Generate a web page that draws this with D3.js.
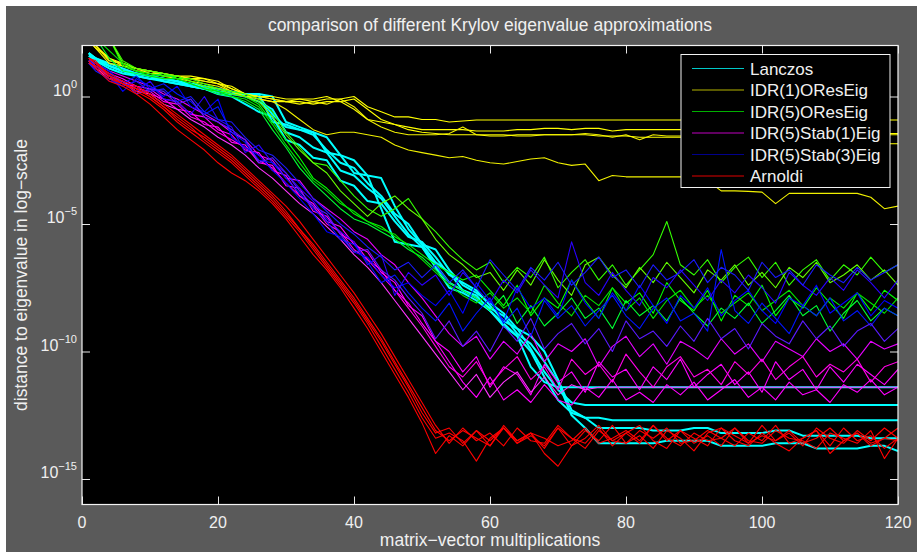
<!DOCTYPE html>
<html>
<head>
<meta charset="utf-8">
<script src="https://cdn.jsdelivr.net/npm/d3@7"></script>
<style>
  html, body { margin: 0; padding: 0; background: #fff; }
  svg { display: block; font-family: "Liberation Sans", Arial, Helvetica, sans-serif; }
</style>
</head>
<body>
<svg id="chart" width="917" height="552"></svg>
<script>
// distances are stored as log10 exponents, sampled at steps 1,2,4,...,120
var steps = [1].concat(d3.range(2, 121, 2));

var lanczosRuns = [
  [1.7,1.5,1.2,1.0,0.9,0.8,0.7,0.6,0.5,0.4,0.2,0.1,0.1,0.1,-1.0,-1.1,-1.3,-1.4,-2.2,-2.3,-3.0,-3.1,-4.4,-5.7,-5.8,-5.9,-6.7,-7.5,-7.7,-8.0,-8.4,-9.0,-9.4,-10.6,-11.2,-11.4,
   -11.4,-11.4,-11.4,-11.4,-11.4,-11.4,-11.4,-11.4,-11.4,-11.4,-11.4,-11.4,-11.4,-11.4,-11.4,-11.4,-11.4,-11.4,-11.4,-11.4,-11.4,-11.4,-11.4,-11.4,-11.4],
  [1.6,1.4,1.1,0.9,0.8,0.7,0.6,0.5,0.4,0.3,0.1,0.0,-0.3,-0.6,-0.8,-1.7,-1.9,-2.4,-2.5,-3.3,-3.5,-4.1,-4.2,-4.9,-5.5,-5.7,-6.3,-7.0,-7.3,-7.6,-8.2,-8.8,-9.1,-9.9,-10.8,-11.5,-12.0,-12.1,
   -12.1,-12.1,-12.1,-12.1,-12.1,-12.1,-12.1,-12.1,-12.1,-12.1,-12.1,-12.1,-12.1,-12.1,-12.1,-12.1,-12.1,-12.1,-12.1,-12.1,-12.1,-12.1,-12.1],
  [1.7,1.5,1.2,1.0,0.8,0.7,0.7,0.6,0.4,0.3,0.2,0.1,0.1,0.0,-0.7,-1.2,-1.3,-1.5,-2.1,-2.6,-2.8,-3.4,-3.9,-4.6,-5.0,-5.8,-6.5,-6.9,-7.6,-7.8,-8.4,-8.9,-9.4,-10.0,-11.0,-11.9,-12.4,-12.6,-12.6,-12.7,
   -12.7,-12.7,-12.7,-12.7,-12.7,-12.7,-12.7,-12.7,-12.7,-12.7,-12.7,-12.7,-12.7,-12.7,-12.7,-12.7,-12.7,-12.7,-12.7,-12.7,-12.7],
  [1.6,1.5,1.3,1.1,0.9,0.8,0.7,0.6,0.5,0.4,0.3,0.2,0.1,0.1,0.0,-1.0,-1.2,-1.4,-1.6,-2.3,-2.5,-3.1,-3.2,-4.3,-5.2,-5.8,-6.0,-6.8,-7.4,-7.7,-8.1,-8.5,-9.1,-9.4,-10.0,-11.1,-12.3,-12.6,-13.0,
   -13.0,-13.0,-13.0,-13.1,-13.1,-13.1,-13.0,-13.0,-13.2,-13.2,-13.2,-13.2,-13.1,-13.1,-13.3,-13.3,-13.3,-13.3,-13.3,-13.4,-13.4,-13.4],
  [1.7,1.4,1.2,1.0,0.9,0.8,0.6,0.5,0.4,0.3,0.2,0.1,0.0,-0.2,-0.5,-1.4,-1.6,-2.0,-2.2,-2.9,-3.1,-3.6,-4.0,-4.7,-5.4,-5.9,-6.6,-7.3,-7.6,-7.9,-8.3,-8.6,-9.3,-9.7,-10.4,-11.2,-12.5,-13.0,-13.6,
   -13.6,-13.6,-13.6,-13.6,-13.5,-13.5,-13.5,-13.5,-13.7,-13.7,-13.7,-13.7,-13.6,-13.6,-13.6,-13.8,-13.8,-13.8,-13.8,-13.7,-13.7,-13.9]
];

var idr1OResRuns = [
  [2.2,2.0,1.4,1.3,1.1,1.0,0.9,0.8,0.7,0.7,0.6,0.3,0.1,0.0,0.0,-0.1,-0.1,-0.2,-0.1,-0.1,0.0,-0.4,-0.6,-0.8,-0.8,-0.9,
   -0.9,-1.0,-0.96,-0.92,-0.92,-0.92,-0.92,-0.92,-0.92,-0.92,-0.92,-0.92,-0.92,-0.92,-0.92,-0.92,-0.92,-0.92,-0.92,-0.92,-0.92,-0.92,-0.92,-0.92,-0.92,-0.92,-0.92,-0.92,-0.92,-0.92,-0.92,-0.92,-0.92,-0.92,-0.92],
  [2.2,1.9,1.5,1.2,1.1,0.9,0.9,0.7,0.7,0.6,0.5,0.4,0.1,0.0,-0.1,-0.2,-0.2,-0.3,-0.2,-0.2,-0.1,-0.5,-0.9,-1.1,-1.2,-1.3,
   -1.3,-1.3,-1.3,-1.35,-1.35,-1.35,-1.3,-1.3,-1.25,-1.25,-1.3,-1.25,-1.25,-1.35,-1.3,-1.3,-1.3,-1.3,-1.3,-1.3,-1.35,-1.35,-1.35,-1.3,-1.3,-1.3,-1.3,-1.3,-0.8,-1.3,-1.3,-1.3,-1.4,-1.45,-1.45],
  [2.2,2.0,1.4,1.3,1.0,1.0,0.8,0.8,0.7,0.6,0.5,0.2,0.0,0.0,-0.1,-0.2,-0.3,-0.2,-0.3,-0.1,-0.4,-0.9,-1.2,-1.4,-1.5,-1.5,
   -1.5,-1.45,-1.2,-1.5,-1.5,-1.5,-1.55,-1.55,-1.5,-1.5,-1.5,-1.45,-1.5,-1.6,-1.5,-1.7,-1.5,-1.55,-1.55,-1.5,-1.5,-1.5,-1.5,-1.5,-1.5,-1.5,-1.5,-1.5,-1.5,-1.5,-1.45,-1.45,-1.5,-1.5,-1.5],
  [2.2,2.0,1.5,1.3,1.1,1.0,0.9,0.8,0.8,0.7,0.5,0.3,0.1,-0.1,-0.2,-0.2,-0.1,-0.1,0.0,-0.2,-0.5,-0.9,-1.0,-1.1,-1.3,-1.4,
   -1.45,-1.5,-1.5,-1.5,-1.55,-1.55,-1.5,-1.5,-1.5,-1.5,-1.5,-1.5,-1.55,-1.55,-1.55,-1.6,-1.6,-1.6,-1.6,-1.6,-1.6,-1.6,-1.6,-1.6,-1.6,-1.6,-1.6,-1.6,-1.6,-1.6,-1.65,-1.8,-1.85,-1.85,-1.85],
  [2.2,1.9,1.3,1.2,1.0,0.9,0.8,0.7,0.6,0.5,0.4,0.2,0.0,-0.1,-0.2,-0.5,-0.9,-1.3,-1.5,-1.4,-1.4,-1.5,-1.6,-1.9,-2.1,-2.2,
   -2.3,-2.4,-2.35,-2.5,-2.6,-2.65,-2.55,-2.45,-2.4,-2.6,-2.7,-2.65,-3.3,-3.1,-3.15,-3.15,-3.15,-3.15,-3.15,-3.2,-3.3,-3.7,-3.7,-3.72,-3.75,-4.2,-3.8,-3.8,-3.8,-3.8,-3.8,-3.8,-3.95,-4.4,-4.3]
];

var idr5OResRuns = [
  [2.3,2.3,2.3,1.2,1.0,0.9,0.8,0.8,0.6,0.4,0.2,0.1,0.0,-0.3,-1.0,-1.7,-2.4,-3.2,-3.6,-4.1,-4.6,-4.9,-5.1,-5.5,-5.8,-6.2,-6.6,-6.9,-7.2,-7.0,
   -7.6,-8.2,-7.4,-8.6,-7.9,-8.3,-7.2,-8.0,-8.7,-7.5,-8.1,-7.7,-8.5,-7.3,-8.0,-8.4,-7.6,-8.8,-7.8,-8.2,-7.4,-8.6,-7.9,-8.3,-7.5,-8.1,-8.7,-7.7,-8.4,-7.6,-8.0],
  [2.3,2.3,2.3,1.4,1.1,1.0,0.9,0.7,0.7,0.5,0.3,0.2,0.1,-0.1,-0.6,-1.4,-2.0,-2.6,-2.7,-3.3,-3.9,-4.4,-4.7,-4.4,-4.0,-4.8,-5.3,-5.9,-6.4,-6.8,
   -6.5,-7.3,-6.7,-7.1,-6.3,-7.5,-6.9,-6.4,-7.2,-6.6,-7.4,-6.8,-6.2,-4.9,-6.6,-7.0,-6.4,-7.3,-6.7,-6.3,-7.1,-6.5,-7.4,-6.8,-6.4,-7.2,-6.6,-7.0,-6.3,-6.9,-6.6],
  [2.3,2.3,1.5,1.0,0.9,0.8,0.9,0.7,0.5,0.3,0.1,0.0,-0.2,-0.5,-1.3,-2.0,-2.8,-3.4,-3.9,-4.4,-4.8,-5.0,-5.3,-5.6,-6.0,-6.3,-6.8,-7.3,-7.6,-7.9,
   -8.4,-7.8,-8.9,-8.2,-9.0,-8.5,-7.9,-8.7,-8.3,-9.1,-8.0,-8.6,-8.2,-8.8,-7.9,-8.5,-9.0,-8.3,-8.7,-8.1,-8.9,-8.4,-7.8,-8.6,-8.2,-9.2,-8.5,-8.0,-8.8,-8.3,-8.6],
  [2.3,2.3,2.3,1.3,1.1,1.0,0.9,0.8,0.6,0.4,0.3,0.1,0.0,-0.2,-0.8,-1.5,-2.1,-2.6,-3.0,-3.7,-4.2,-4.7,-4.2,-3.9,-4.4,-4.8,-5.6,-6.2,-6.6,-7.1,
   -6.9,-7.6,-6.8,-7.4,-6.4,-7.2,-7.8,-6.6,-6.3,-7.0,-7.5,-6.7,-7.3,-6.5,-7.1,-7.7,-6.8,-7.2,-6.6,-7.4,-6.9,-7.5,-6.7,-7.1,-6.5,-7.3,-7.0,-6.6,-7.2,-6.8,-7.4],
  [2.3,2.3,1.8,1.3,1.0,0.8,0.7,0.7,0.5,0.3,0.2,0.0,-0.1,-0.4,-1.1,-1.9,-2.6,-3.3,-3.7,-4.2,-4.5,-4.9,-5.2,-5.4,-5.9,-6.4,-6.9,-7.4,-7.8,-8.1,
   -7.7,-8.3,-7.9,-8.5,-7.4,-8.1,-8.6,-7.8,-8.2,-7.5,-8.4,-7.9,-8.7,-8.0,-7.6,-8.3,-7.8,-8.5,-8.1,-7.7,-8.4,-8.0,-7.6,-8.2,-8.6,-7.9,-8.3,-7.7,-8.1,-8.5,-7.9]
];

var idr5Stab1Runs = [
  [1.4,1.2,0.9,0.7,0.4,0.3,-0.1,-0.2,-0.7,-0.8,-1.3,-1.5,-2.1,-2.2,-2.9,-3.1,-3.9,-4.2,-4.9,-5.1,-5.8,-6.1,-6.9,-7.3,-8.2,-8.6,-9.6,-10.0,
   -10.8,-10.2,-11.4,-10.6,-10.9,-11.7,-10.5,-11.2,-10.8,-11.6,-10.4,-11.0,-10.7,-11.5,-10.6,-11.1,-10.3,-11.4,-10.9,-10.5,-11.3,-10.8,-11.6,-10.4,-11.1,-10.7,-11.5,-10.6,-11.2,-10.5,-10.9,-11.3,-10.7],
  [1.3,1.1,0.8,0.5,0.4,0.1,-0.1,-0.5,-0.6,-1.1,-1.2,-1.8,-1.9,-2.6,-2.7,-3.5,-3.6,-4.5,-4.7,-5.4,-5.7,-6.4,-6.8,-7.6,-8.1,-8.9,-9.6,-10.4,
   -11.2,-11.8,-11.0,-11.9,-11.5,-12.0,-11.3,-11.9,-12.1,-11.4,-11.8,-11.1,-11.9,-11.6,-12.0,-11.3,-11.7,-11.2,-11.9,-11.5,-11.1,-11.8,-11.4,-11.9,-11.2,-11.7,-11.5,-12.0,-11.3,-11.6,-11.1,-11.7,-11.4],
  [1.4,1.3,1.0,0.8,0.6,0.4,0.1,-0.1,-0.4,-0.7,-1.0,-1.4,-1.7,-2.3,-2.5,-3.2,-3.3,-4.0,-4.4,-4.8,-5.3,-5.6,-6.2,-6.6,-7.3,-7.9,-8.6,-9.3,
   -9.8,-9.4,-10.3,-9.6,-10.1,-9.3,-10.4,-9.7,-10.0,-9.5,-10.6,-9.8,-9.4,-10.2,-9.7,-10.5,-9.6,-9.9,-10.3,-9.5,-10.1,-9.7,-10.4,-9.6,-9.9,-10.2,-9.5,-10.0,-9.7,-10.3,-9.6,-9.9,-9.7],
  [1.3,1.2,0.8,0.6,0.3,0.2,-0.2,-0.3,-0.8,-1.0,-1.4,-1.7,-2.0,-2.5,-2.8,-3.4,-3.9,-4.3,-5.0,-5.3,-6.0,-6.4,-7.0,-7.6,-8.3,-9.0,-9.8,-10.6,
   -11.0,-10.4,-11.3,-10.7,-10.2,-11.1,-10.6,-11.5,-10.3,-10.9,-10.5,-11.2,-10.1,-10.8,-11.4,-10.6,-10.2,-11.0,-10.7,-11.3,-10.4,-10.9,-10.3,-11.1,-10.6,-10.2,-11.0,-10.5,-10.8,-10.3,-11.2,-10.6,-10.4],
  [1.4,1.1,0.7,0.6,0.2,0.1,-0.3,-0.5,-0.9,-1.2,-1.6,-1.9,-2.3,-2.8,-3.2,-3.7,-4.2,-4.6,-5.1,-5.6,-6.2,-6.7,-7.3,-8.0,-8.7,-9.4,-10.1,-10.8,
   -11.5,-10.9,-11.8,-11.2,-10.8,-11.6,-11.0,-11.7,-11.3,-11.5,-11.4,-11.4,-11.4,-11.4,-11.4,-11.4,-11.4,-11.4,-11.4,-11.4,-11.4,-11.4,-11.4,-11.4,-11.4,-11.4,-11.4,-11.4,-11.4,-11.4,-11.4,-11.4,-11.4]
];

var idr5Stab3Runs = [
  [1.4,1.2,0.9,0.2,0.7,0.4,0.0,0.4,-0.4,-0.6,-0.1,-1.6,-2.0,-2.3,-2.9,-3.4,-4.0,-4.6,-5.3,-5.5,-6.1,-6.3,-7.0,-7.5,-7.3,-7.8,
   -8.2,-7.6,-8.5,-7.3,-8.0,-8.8,-7.5,-8.3,-7.9,-8.6,-7.2,-8.1,-8.7,-7.7,-8.4,-7.4,-8.2,-8.9,-7.8,-8.3,-7.5,-8.6,-8.0,-7.6,-8.4,-8.9,-7.9,-8.2,-7.4,-8.5,-8.1,-7.7,-8.6,-8.0,-8.3],
  [1.3,1.1,0.6,0.5,0.2,0.6,-0.1,-0.2,-0.7,0.0,-0.9,-1.2,-2.2,-1.9,-2.6,-3.0,-3.6,-4.1,-4.8,-5.3,-5.7,-6.6,-6.2,-7.8,-6.9,-7.4,
   -7.0,-7.8,-6.9,-7.5,-8.1,-7.2,-7.7,-6.8,-7.4,-7.9,-5.7,-7.3,-7.8,-6.9,-7.6,-8.2,-7.1,-7.5,-6.8,-7.4,-8.0,-7.2,-7.7,-7.0,-7.5,-8.1,-6.9,-7.4,-7.8,-7.1,-7.6,-6.8,-7.3,-7.9,-7.2],
  [1.4,1.3,1.0,0.5,0.8,0.3,0.5,0.1,-0.2,-0.7,-0.4,-1.4,-1.8,-2.5,-2.6,-3.2,-3.8,-4.4,-4.9,-5.6,-5.8,-6.5,-7.3,-7.0,-7.7,-8.3,
   -8.8,-8.1,-9.2,-8.5,-7.9,-8.9,-8.3,-9.4,-8.0,-8.7,-8.2,-9.0,-8.4,-7.8,-8.6,-9.1,-8.3,-7.9,-8.8,-8.5,-9.2,-6.0,-8.4,-8.9,-8.1,-8.7,-9.3,-8.2,-8.6,-7.9,-8.8,-8.4,-9.0,-8.3,-8.6],
  [1.5,1.2,0.8,0.6,0.1,0.3,0.2,-0.3,-0.1,-0.8,-1.0,-1.3,-1.7,-2.6,-2.4,-3.0,-3.7,-4.3,-4.6,-5.4,-6.1,-6.0,-6.8,-7.2,-7.9,-8.5,
   -9.5,-8.8,-9.8,-9.2,-10.0,-9.0,-9.6,-8.7,-9.9,-9.3,-8.9,-9.7,-9.1,-10.0,-8.8,-9.5,-9.2,-9.8,-9.0,-9.6,-8.7,-9.5,-9.1,-9.9,-8.9,-9.4,-9.7,-8.8,-9.5,-9.0,-9.8,-9.2,-8.9,-9.6,-9.1],
  [1.3,1.0,0.7,0.4,0.6,0.2,0.3,-0.2,0.0,-0.6,-0.9,-1.0,-1.6,-2.1,-2.3,-2.8,-3.4,-4.0,-4.5,-5.0,-5.4,-5.9,-6.3,-6.8,-6.5,-7.1,
   -6.6,-7.3,-6.8,-7.5,-6.4,-7.0,-7.6,-6.7,-7.2,-6.5,-7.4,-6.9,-6.3,-7.1,-6.8,-7.5,-6.6,-7.2,-6.9,-6.4,-7.3,-6.7,-7.0,-7.6,-6.5,-7.1,-6.8,-7.4,-6.6,-7.0,-7.3,-6.7,-7.2,-6.9,-6.6]
];

var arnoldiRuns = [
  [1.5,1.3,0.8,0.5,0.3,0.0,-0.4,-0.9,-1.3,-1.6,-2.0,-2.4,-2.9,-3.4,-3.9,-4.5,-5.2,-5.9,-6.6,-7.3,-8.0,-8.8,-9.6,-10.5,-11.4,-12.4,-13.2,
   -13.0,-13.6,-13.1,-13.7,-12.9,-13.5,-13.2,-13.8,-13.0,-13.4,-13.6,-13.0,-13.7,-13.2,-12.9,-13.5,-13.8,-13.1,-13.4,-13.7,-13.0,-13.3,-13.6,-12.9,-13.5,-13.2,-13.7,-13.0,-13.4,-13.6,-13.1,-13.5,-13.0,-13.4],
  [1.4,1.1,0.6,0.4,0.1,-0.3,-0.8,-1.3,-1.7,-2.1,-2.6,-3.0,-3.3,-3.7,-4.2,-4.8,-5.5,-6.2,-6.8,-7.5,-8.3,-9.1,-10.0,-10.9,-11.8,-12.8,-14.0,
   -13.3,-13.7,-13.1,-13.5,-13.0,-13.6,-13.2,-14.0,-14.5,-13.7,-13.1,-13.5,-12.9,-13.6,-13.3,-13.8,-13.1,-13.4,-13.9,-13.2,-13.0,-13.5,-13.7,-13.2,-13.6,-13.9,-13.4,-13.1,-13.7,-13.0,-13.5,-13.3,-13.8,-13.4],
  [1.5,1.3,0.9,0.6,0.4,0.1,-0.3,-0.7,-1.1,-1.5,-1.9,-2.3,-2.8,-3.3,-3.8,-4.3,-4.9,-5.6,-6.3,-7.0,-7.7,-8.5,-9.3,-10.2,-11.1,-12.0,-12.9,
   -13.6,-13.0,-13.5,-13.2,-13.7,-13.0,-13.5,-13.6,-12.9,-13.4,-13.8,-13.1,-13.5,-13.2,-13.6,-12.9,-13.5,-13.1,-13.6,-13.3,-13.7,-13.0,-13.5,-13.6,-13.1,-13.4,-13.5,-13.8,-13.2,-13.4,-13.6,-13.1,-14.2,-13.4],
  [1.3,1.2,0.7,0.5,0.2,-0.1,-0.5,-1.0,-1.4,-1.8,-2.2,-2.6,-3.1,-3.6,-4.1,-4.7,-5.3,-6.0,-6.7,-7.4,-8.1,-8.9,-9.8,-10.7,-11.6,-12.6,-13.4,
   -13.2,-13.5,-14.3,-13.4,-13.0,-13.6,-13.3,-13.7,-13.0,-13.7,-13.4,-12.9,-13.5,-13.6,-13.1,-13.4,-13.0,-13.6,-13.5,-13.1,-13.4,-13.7,-13.2,-13.5,-12.9,-13.6,-13.4,-13.1,-14.0,-13.5,-13.2,-13.6,-13.4,-13.0],
  [1.5,1.4,0.8,0.5,0.3,0.0,-0.4,-0.8,-1.2,-1.7,-2.1,-2.5,-3.0,-3.5,-4.0,-4.6,-5.2,-5.8,-6.5,-7.2,-7.9,-8.7,-9.5,-10.4,-11.3,-12.2,-13.1,
   -13.5,-13.1,-13.4,-13.7,-13.0,-13.5,-13.2,-13.4,-13.7,-13.5,-13.0,-13.6,-13.4,-13.1,-13.5,-12.9,-13.4,-13.7,-13.2,-13.5,-13.4,-13.0,-13.6,-13.3,-13.5,-13.1,-13.6,-13.4,-13.0,-13.5,-13.2,-13.7,-13.4,-13.5]
];

var methodNames = ["Lanczos", "IDR(1)OResEig", "IDR(5)OResEig", "IDR(5)Stab(1)Eig", "IDR(5)Stab(3)Eig", "Arnoldi"];
var xTicks = [0, 20, 40, 60, 80, 100, 120];
var yTickExps = [0, -5, -10, -15];

var groups = [
  {runs: lanczosRuns,   colors: ["#00ffff","#00ffff","#00ffff","#00ffff","#00ffff"], width: 2,   key: "#00c8c8"},
  {runs: idr1OResRuns,  colors: ["#ffff00","#ffff00","#f0f000","#ffff00","#f0f000"], width: 1.1, key: "#b4b400"},
  {runs: idr5OResRuns,  colors: ["#00ff00","#33ff00","#00ff33","#66ff00","#00e600"], width: 1.1, key: "#00b000"},
  {runs: idr5Stab1Runs, colors: ["#ff00ff","#ff00ff","#e600ff","#ff00e6","#ff33ff"], width: 1.1, key: "#c000c0"},
  {runs: idr5Stab3Runs, colors: ["#0000ff","#2a00ff","#0014ff","#5a1aff","#1a1aff"], width: 1.1, key: "#00008c"},
  {runs: arnoldiRuns,   colors: ["#ff0000","#ff0000","#ff0000","#ff0000","#ff0000"], width: 1.1, key: "#e00000"}
];

(function() {
  var svg = d3.select("#chart"),
      pl = 82, pr = 898, pt = 45.5, pb = 504.5;

  var x = d3.scaleLinear().domain([0, 120]).range([pl, pr]);
  var y = d3.scaleLog().domain([1e-16, 1e2]).range([pb, pt]);

  // figure background (thin white strip on the top / left edge)
  svg.append("rect").attr("width", 917).attr("height", 552).attr("fill", "#ffffff");
  svg.append("rect").attr("x", 6).attr("y", 6).attr("width", 911).attr("height", 546).attr("fill", "#5a5a5a");

  svg.append("rect")
      .attr("x", pl).attr("y", pt)
      .attr("width", pr - pl).attr("height", pb - pt)
      .attr("fill", "#000");

  svg.append("defs").append("clipPath")
      .attr("id", "clip")
    .append("rect")
      .attr("x", pl).attr("y", pt)
      .attr("width", pr - pl).attr("height", pb - pt);

  var line = d3.line()
      .x(function(d, i) { return x(steps[i]); })
      .y(function(d) { return y(Math.pow(10, d)); });

  var plot = svg.append("g").attr("clip-path", "url(#clip)");
  groups.forEach(function(g) {
    g.runs.forEach(function(run, k) {
      plot.append("path")
          .datum(run)
          .attr("d", line)
          .attr("fill", "none")
          .attr("stroke", g.colors[k])
          .attr("stroke-width", g.width)
          .attr("stroke-linejoin", "round");
    });
  });

  // axes: ticks point inwards on all four sides
  function styleAxis(sel) {
    sel.select(".domain").remove();
    sel.selectAll(".tick line").attr("stroke", "#e6e6e6");
    sel.selectAll(".tick text").remove();
  }
  var yTickVals = yTickExps.map(function(e) { return Math.pow(10, e); });
  svg.append("g").attr("transform", "translate(0," + pb + ")")
      .call(d3.axisBottom(x).tickValues(xTicks).tickSize(-8)).call(styleAxis);
  svg.append("g").attr("transform", "translate(0," + pt + ")")
      .call(d3.axisTop(x).tickValues(xTicks).tickSize(-8)).call(styleAxis);
  svg.append("g").attr("transform", "translate(" + pl + ",0)")
      .call(d3.axisLeft(y).tickValues(yTickVals).tickSize(-8)).call(styleAxis);
  svg.append("g").attr("transform", "translate(" + pr + ",0)")
      .call(d3.axisRight(y).tickValues(yTickVals).tickSize(-8)).call(styleAxis);

  svg.append("rect")
      .attr("x", pl).attr("y", pt)
      .attr("width", pr - pl).attr("height", pb - pt)
      .attr("fill", "none").attr("stroke", "#f2f2f2").attr("stroke-width", 1.2);

  // tick labels
  svg.selectAll(".xlab").data(xTicks).enter().append("text")
      .attr("class", "xlab")
      .attr("x", function(d) { return x(d); })
      .attr("y", 528)
      .attr("text-anchor", "middle")
      .attr("fill", "#f0f0f0").attr("font-size", 16)
      .text(function(d) { return d; });

  var ylab = svg.selectAll(".ylab").data(yTickExps).enter().append("text")
      .attr("class", "ylab")
      .attr("x", pl - 5)
      .attr("y", function(d) { return y(Math.pow(10, d)) - 1; })
      .attr("text-anchor", "end")
      .attr("fill", "#f0f0f0").attr("font-size", 16);
  ylab.append("tspan").text("10");
  ylab.append("tspan").attr("dy", -8).attr("font-size", 11)
      .text(function(d) { return d === 0 ? "0" : "\u2212" + (-d); });

  // titles
  svg.append("text")
      .attr("x", (pl + pr) / 2).attr("y", 31)
      .attr("text-anchor", "middle").attr("fill", "#f0f0f0").attr("font-size", 17.5)
      .text("comparison of different Krylov eigenvalue approximations");
  svg.append("text")
      .attr("x", (pl + pr) / 2).attr("y", 546)
      .attr("text-anchor", "middle").attr("fill", "#f0f0f0").attr("font-size", 17.5)
      .text("matrix\u2212vector multiplications");
  svg.append("text")
      .attr("transform", "translate(27," + ((pt + pb) / 2) + ") rotate(-90)")
      .attr("text-anchor", "middle").attr("fill", "#f0f0f0").attr("font-size", 17.5)
      .text("distance to eigenvalue in log\u2212scale");

  // legend
  var legend = svg.append("g").attr("transform", "translate(681,54.5)");
  legend.append("rect")
      .attr("width", 209).attr("height", 133)
      .attr("fill", "#000").attr("stroke", "#f2f2f2").attr("stroke-width", 1);
  methodNames.forEach(function(name, i) {
    var yy = 14 + i * 21.5;
    legend.append("line")
        .attr("x1", 11).attr("x2", 63).attr("y1", yy).attr("y2", yy)
        .attr("stroke", groups[i].key).attr("stroke-width", 1.2);
    legend.append("text")
        .attr("x", 69).attr("y", yy + 6)
        .attr("fill", "#f0f0f0").attr("font-size", 17)
        .text(name);
  });
})();
</script>
</body>
</html>
